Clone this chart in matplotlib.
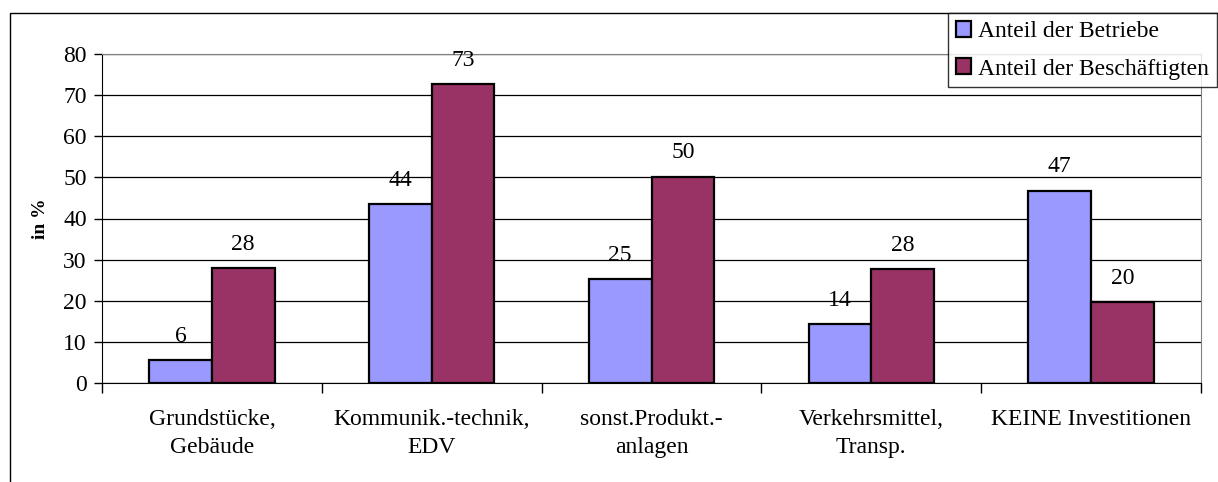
import numpy as np
import matplotlib
matplotlib.use("Agg")
import matplotlib.pyplot as plt
from matplotlib.patches import Rectangle

categories = ["Grundstücke,\nGebäude", "Kommunik.-technik,\nEDV", "sonst.Produkt.-\nanlagen",
              "Verkehrsmittel,\nTransp.", "KEINE Investitionen"]
betriebe = [5.6, 43.6, 25.2, 14.3, 46.8]
beschaeftigte = [27.9, 72.8, 50.2, 27.7, 19.6]
series_names = ["Anteil der Betriebe", "Anteil der Beschäftigten"]
yticks = [0, 10, 20, 30, 40, 50, 60, 70, 80]

plt.rcParams["font.family"] = ["Liberation Serif", "DejaVu Serif"]
FS = 17

W, H = 1218, 482
fig = plt.figure(figsize=(W / 100, H / 100), dpi=100)
ax = fig.add_axes([102 / W, 1 - 383 / H, (1201 - 102) / W, (383 - 54) / H])

# outer chart frame (runs off the right and bottom edge)
fig.patches.append(Rectangle((10 / W, -0.2), 1.2, 0.2 + (H - 13) / H,
                             transform=fig.transFigure, fill=False,
                             edgecolor="black", lw=1.0))

n = len(categories)
ind = np.arange(n)
width = 0.285
b1 = ax.bar(ind - width / 2, betriebe, width, color="#9999FF", edgecolor="black",
            lw=1.6, label=series_names[0], zorder=3)
b2 = ax.bar(ind + width / 2, beschaeftigte, width, color="#993366", edgecolor="black",
            lw=1.6, label=series_names[1], zorder=3)

for rects, vals in ((b1, betriebe), (b2, beschaeftigte)):
    for r, v in zip(rects, vals):
        ax.annotate(f"{v:.0f}", (r.get_x() + r.get_width() / 2, r.get_height()),
                    xytext=(0, 13), textcoords="offset points",
                    ha="center", va="baseline", fontsize=FS)

ax.set_xlim(-0.5, n - 0.5)
ax.set_ylim(0, 80)
ax.set_yticks(yticks)
ax.tick_params(axis="y", labelsize=FS, length=6, width=1, direction="out", pad=5)
ax.yaxis.grid(True, color="black", lw=0.9, zorder=0)
ax.set_axisbelow(True)

# category boundaries as major ticks, names as minor ticks
ax.set_xticks(np.arange(n + 1) - 0.5)
ax.set_xticklabels([])
ax.set_xticks(ind, minor=True)
ax.set_xticklabels(categories, minor=True, fontsize=FS, linespacing=1.4)
ax.tick_params(axis="x", which="minor", length=0, pad=19)
ax.tick_params(axis="x", which="major", length=7, width=1, direction="out")

for s in ("top", "right"):
    ax.spines[s].set_color("#808080")
for s in ("left", "bottom"):
    ax.spines[s].set_color("black")

ax.set_ylabel("in %", fontsize=14, fontweight="bold", labelpad=10)

leg = fig.legend(loc="upper right", bbox_to_anchor=(1217 / W, 1 - 13 / H),
                 fontsize=FS, frameon=True, fancybox=False, handlelength=0.65,
                 handleheight=0.65, handletextpad=0.3, labelspacing=0.7,
                 borderpad=0.33, borderaxespad=0)
leg.get_frame().set_edgecolor("black")
leg.get_frame().set_linewidth(1.0)

fig.savefig("out.png", dpi=100)
